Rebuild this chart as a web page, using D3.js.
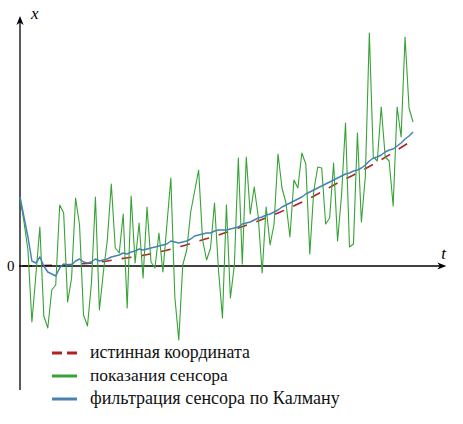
<!DOCTYPE html>
<html><head><meta charset="utf-8">
<script src="https://cdn.jsdelivr.net/npm/d3@7"></script>
<style>body{margin:0;background:#fff}svg{display:block}</style>
</head><body>
<svg id="c" width="463" height="424"></svg>
<script>
// sensor readings, one per time step t = 0..99
const sensor = [6.8,4.4,1.6,-5.6,-0.9,3.9,-5.0,-6.2,-2.4,-1.9,
  6.1,5.3,-3.6,-1.2,6.8,4.1,-4.9,-6.0,-1.7,6.9,
  -4.4,-0.6,2.6,8.2,1.8,1.3,5.2,-4.2,7.0,0.3,
  4.3,-1.2,5.9,0.4,-0.2,3.3,-0.6,4.1,8.8,-3.1,
  -7.4,0.1,1.6,5.4,7.5,9.6,2.6,0.6,1.8,6.3,
  -0.4,-5.2,6.1,-3.2,0.1,10.8,0.2,10.9,5.2,7.9,
  5.0,-0.7,5.9,2.1,4.2,11.2,7.8,6.3,2.9,8.6,
  7.8,11.3,10.2,1.2,7.5,9.9,9.8,4.2,4.8,10.3,
  2.5,7.1,14.3,1.9,2.2,13.3,4.4,9.0,23.3,10.9,
  10.5,15.9,10.9,10.5,6.0,15.9,12.9,22.9,15.8,14.4];
// Kalman filtered estimate, t = 0..99
const kalman = [6.9,4.9,2.9,0.5,0.3,0.9,0.0,-0.6,-0.8,-1.0,
  -0.2,0.2,0.1,0.1,0.5,0.7,0.4,0.3,0.4,0.7,
  0.5,0.6,0.7,0.9,1.0,1.1,1.3,1.2,1.4,1.5,
  1.7,1.6,1.7,1.8,1.9,2.0,2.1,2.2,2.5,2.4,
  2.3,2.4,2.5,2.7,3.0,3.1,3.2,3.3,3.3,3.5,
  3.6,3.6,3.6,3.7,3.8,3.9,4.2,4.3,4.4,4.6,
  4.8,4.9,5.1,5.2,5.4,5.6,5.9,6.1,6.3,6.5,
  6.7,6.9,7.2,7.4,7.6,7.8,8.0,8.2,8.4,8.6,
  8.8,9.0,9.2,9.3,9.5,9.6,9.8,10.1,10.5,10.8,
  10.9,11.1,11.4,11.6,11.7,12.0,12.3,12.7,13.0,13.4];
// true coordinate, read at selected time steps
const trueT = [0,5,10,15,20,25,30,35,40,45,50,55,60,65,70,75,80,85,90,95,99];
const trueX = [0,0.03,0.1,0.2,0.4,0.7,1.0,1.4,1.9,2.5,3.1,3.8,4.5,5.3,6.2,7.2,8.3,9.3,10.4,11.6,12.6];

const legendLabels = ["истинная координата","показания сенсора","фильтрация сенсора по Калману"];
const legendColors = ["#b22222","#35a335","#4682b4"];
const axisNames = ["t","x"];
const originLabel = "0";

const svg = d3.select("#c");
const x = d3.scaleLinear().domain([0,99]).range([20,413]);
const y = d3.scaleLinear().domain([-12.4,25]).range([390,16]);
const xEnd = 107.4;
const serif = "'Liberation Serif', 'DejaVu Serif', serif";

const line = d3.line().x(d=>x(d[0])).y(d=>y(d[1]));

// true coordinate (dashed)
svg.append("path")
  .attr("d", d3.line().x(d=>x(d[0])).y(d=>y(d[1])).curve(d3.curveMonotoneX)(trueT.map((t,i)=>[t,trueX[i]])))
  .attr("fill","none").attr("stroke",legendColors[0]).attr("stroke-width",1.6)
  .attr("stroke-dasharray","10,10").attr("stroke-dashoffset",18);

// axes
svg.append("line").attr("x1",x(0)).attr("x2",x(0)).attr("y1",y(-12.4)).attr("y2",y(25)+4)
  .attr("stroke","#000").attr("stroke-width",1.3);
svg.append("line").attr("x1",x(0)-1).attr("x2",x(xEnd)-4).attr("y1",y(0)).attr("y2",y(0))
  .attr("stroke","#000").attr("stroke-width",1.3);
const ax = x(xEnd), ay = y(0);
svg.append("path").attr("d",`M${ax},${ay} L${ax-9},${ay-3.6} L${ax-6.5},${ay} L${ax-9},${ay+3.6} Z`).attr("fill","#000");
const bx = x(0), by = y(25);
svg.append("path").attr("d",`M${bx},${by} L${bx-3.6},${by+9} L${bx},${by+6.5} L${bx+3.6},${by+9} Z`).attr("fill","#000");

// sensor
svg.append("path").attr("d", line(sensor.map((v,i)=>[i,v])))
  .attr("fill","none").attr("stroke",legendColors[1]).attr("stroke-width",1.1).attr("stroke-linejoin","round");
// kalman
svg.append("path").attr("d", line(kalman.map((v,i)=>[i,v])))
  .attr("fill","none").attr("stroke",legendColors[2]).attr("stroke-width",1.5).attr("stroke-linejoin","round");

// axis labels
svg.append("text").text(axisNames[0]).attr("x",ax-5).attr("y",ay-7)
  .attr("font-family",serif).attr("font-style","italic").attr("font-size",17);
svg.append("text").text(axisNames[1]).attr("x",bx+11).attr("y",by+3)
  .attr("font-family",serif).attr("font-style","italic").attr("font-size",17);
svg.append("text").text(originLabel).attr("x",bx-13).attr("y",ay+5)
  .attr("font-family",serif).attr("font-size",15);

// legend
const legendWidths = [160,138,250];
const lg = svg.append("g");
legendLabels.forEach((lab,i)=>{
  const yy = 353 + i*23;
  lg.append("line").attr("x1",52).attr("x2",77).attr("y1",yy).attr("y2",yy)
    .attr("stroke",legendColors[i]).attr("stroke-width",3)
    .attr("stroke-dasharray", i===0 ? "10,5" : null);
  const t = lg.append("text").text(lab).attr("x",90).attr("y",yy+4.5)
    .attr("font-family",serif).attr("font-size",15).attr("fill","#111");
  const w = t.node().getComputedTextLength();
  t.attr("font-size", 15*legendWidths[i]/w);
});
</script>
</body></html>
